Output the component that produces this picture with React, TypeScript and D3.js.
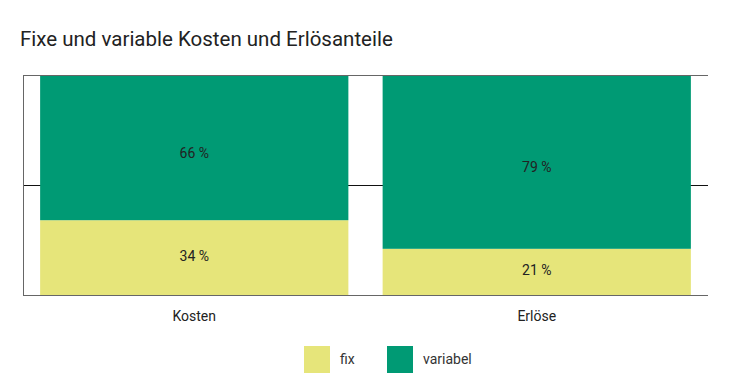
import React from "react";
import * as d3 from "d3";

const categories = ["Kosten", "Erlöse"];
const fixValues = [34, 21];
const variabelValues = [66, 79];
const seriesNames = ["fix", "variabel"];
const yTicks = [0, 50, 100];

const W = 731;
const H = 380;
const colors = ["#e6e57a", "#009a74"];
const labelDy = [3.5, 10];
const FONT = "Roboto, 'Noto Sans', sans-serif";

export default function App() {
  const left = 23, right = 708, top = 75, bottom = 295;
  const x = d3.scaleBand<string>().domain(categories).range([left, right]).paddingInner(0.1).paddingOuter(0.05);
  const y = d3.scaleLinear().domain([0, 100]).range([bottom, top]);
  const rows = categories.map((c, i) => ({ cat: c, fix: fixValues[i], variabel: variabelValues[i] }));
  const stack = d3.stack<any>().keys(seriesNames)(rows);

  return (
    <svg width={W} height={H} style={{ position: "absolute", left: 0, top: 0, fontFamily: FONT }}>
      <rect width={W} height={H} fill="#fff" />
      <text x={20} y={46} fontSize={20.5} fill="#222">Fixe und variable Kosten und Erlösanteile</text>
      {yTicks.filter((t) => t !== 0 && t !== 100).map((t) => (
        <line key={t} x1={left} x2={right} y1={y(t) + 0.5} y2={y(t) + 0.5} stroke="#111" strokeWidth={1} />
      ))}
      {stack.map((s, si) =>
        s.map((d, i) => (
          <rect key={si + "-" + i} x={x(categories[i])!} width={x.bandwidth()} y={y(d[1])} height={y(d[0]) - y(d[1])} fill={colors[si]} />
        ))
      )}
      {[0, 100].map((t) => (
        <line key={t} x1={left} x2={right} y1={y(t) + 0.5} y2={y(t) + 0.5} stroke="#666" strokeWidth={1} />
      ))}
      <line x1={left + 0.5} x2={left + 0.5} y1={top} y2={bottom + 1} stroke="#666" strokeWidth={1} />
      {stack.map((s, si) =>
        s.map((d, i) => (
          <text key={"l" + si + "-" + i} x={x(categories[i])! + x.bandwidth() / 2} y={(y(d[0]) + y(d[1])) / 2 + labelDy[si]} textAnchor="middle" fontSize={14} fill="#222">
            {`${d[1] - d[0]} %`}
          </text>
        ))
      )}
      {categories.map((c) => (
        <text key={c} x={x(c)! + x.bandwidth() / 2} y={321} textAnchor="middle" fontSize={14} fill="#222">{c}</text>
      ))}
      {seriesNames.map((n, i) => {
        const lx = [304, 387][i];
        return (
          <g key={n}>
            <rect x={lx} y={346} width={26} height={27} fill={colors[i]} />
            <text x={lx + 36} y={364} fontSize={14} fill="#333">{n}</text>
          </g>
        );
      })}
    </svg>
  );
}
